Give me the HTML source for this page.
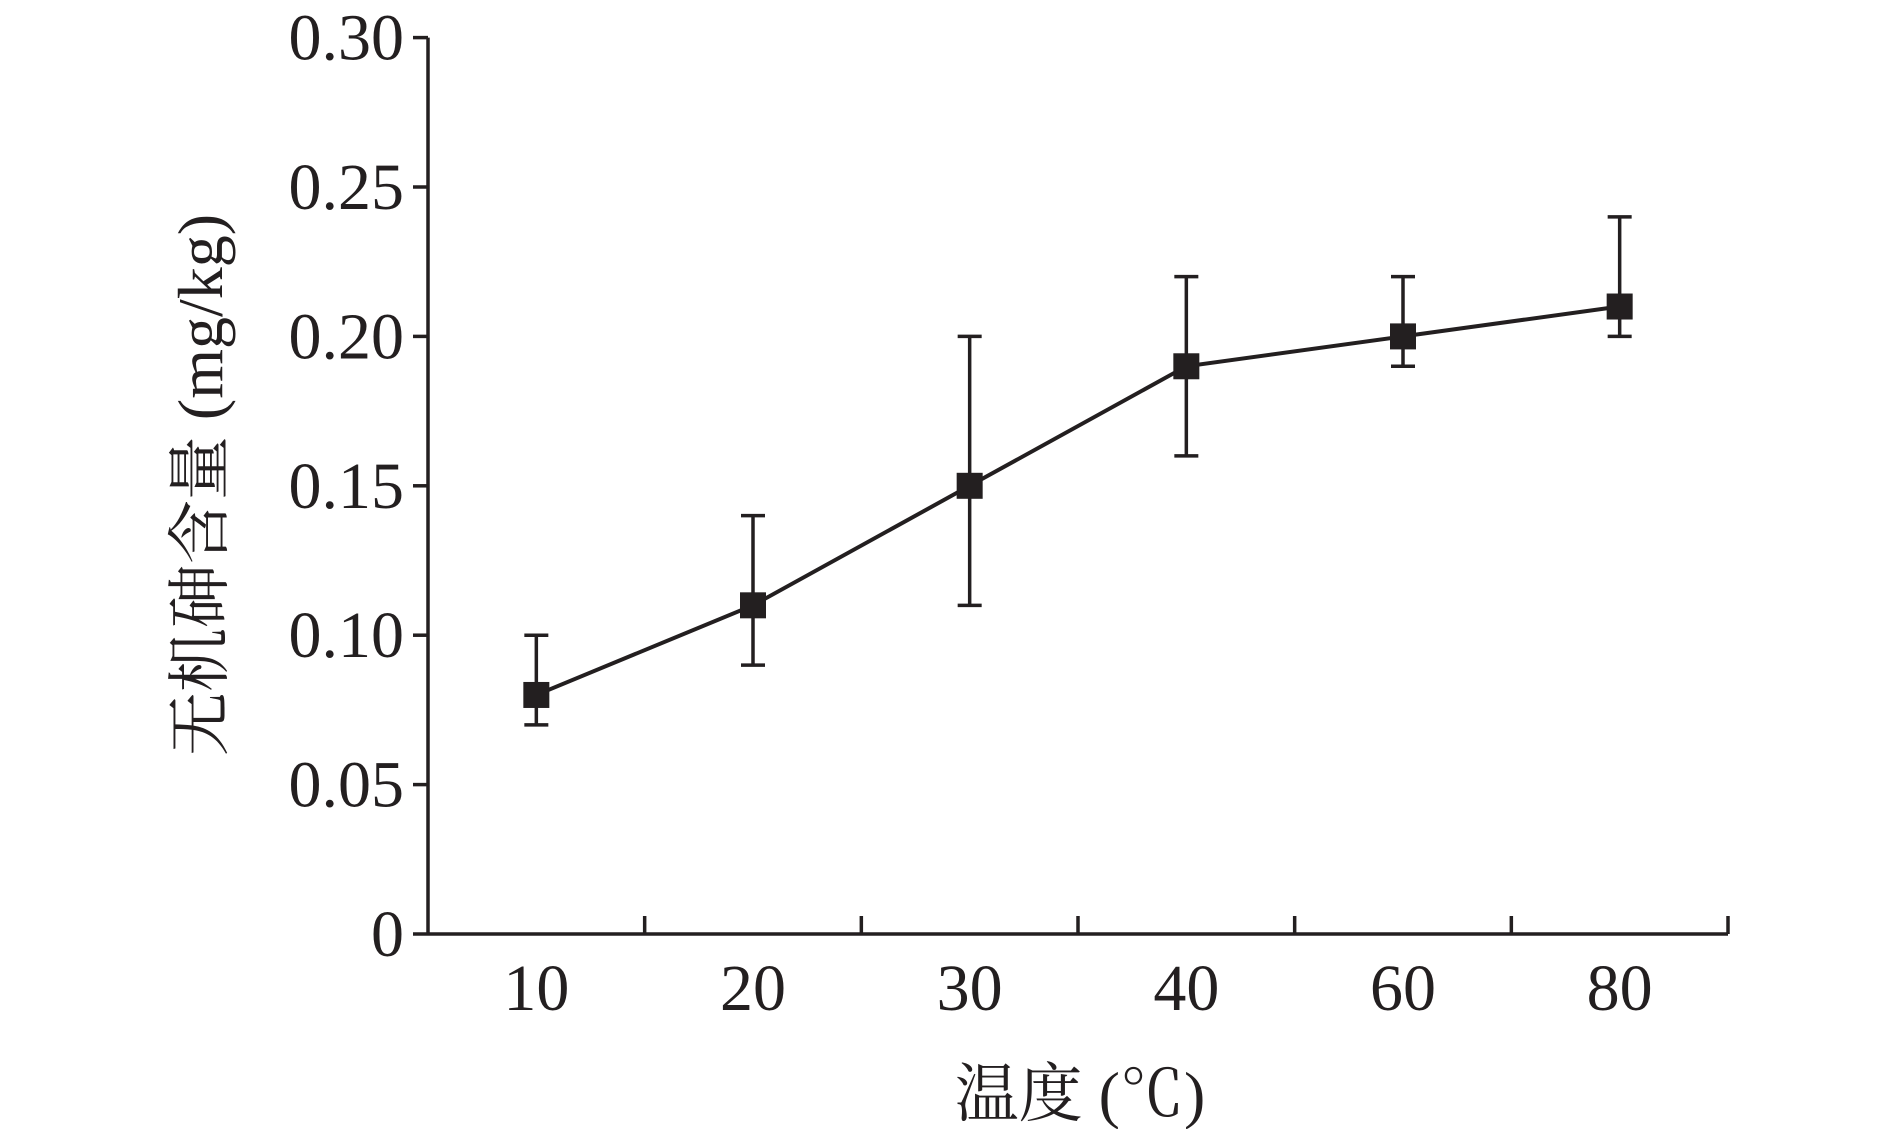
<!DOCTYPE html>
<html><head><meta charset="utf-8"><style>body{margin:0;background:#fff}svg{display:block}text{font-family:"Liberation Serif","Noto Serif CJK SC",serif;fill:#231f20}</style></head>
<body>
<svg id="chart" width="1890" height="1129" viewBox="0 0 1890 1129"></svg>
<script>
const categories=["10","20","30","40","60","80"];
const values=[0.08,0.11,0.15,0.19,0.20,0.21];
const errHigh=[0.10,0.14,0.20,0.22,0.22,0.24];
const errLow=[0.07,0.09,0.11,0.16,0.19,0.20];
const yTicks=[0,0.05,0.10,0.15,0.20,0.25,0.30];
const yTickLabels=["0","0.05","0.10","0.15","0.20","0.25","0.30"];
const svg=document.getElementById('chart');
const NS='http://www.w3.org/2000/svg';
const X0=428,X1=1728,Y0=934,Y1=37.6,band=(X1-X0)/categories.length;
const C='#231f20';
function y(v){return Y0-(v/0.30)*(Y0-Y1);}
function x(i){return X0+band*(i+0.5);}
function mk(t,a){const e=document.createElementNS(NS,t);for(const k in a)e.setAttribute(k,a[k]);svg.appendChild(e);return e;}
let e;
e=mk('line',{x1:X0,y1:Y1,x2:X0,y2:Y0,stroke:C,'stroke-width':3.5});


e=mk('line',{x1:X0,y1:Y0,x2:X1,y2:Y0,stroke:C,'stroke-width':3.5});


yTicks.forEach((v,i)=>{
 e=mk('line',{x1:X0-15,y1:y(v),x2:X0,y2:y(v),stroke:C,'stroke-width':3.5});
 
 
 e=mk('text',{x:404,y:y(v)+22,'text-anchor':'end','font-size':66});
 e.textContent=yTickLabels[i];
 
 
});
for(let i=1;i<=categories.length;i++){
 e=mk('line',{x1:X0+band*i,y1:Y0,x2:X0+band*i,y2:Y0-18,stroke:C,'stroke-width':3.5});
 
 
}
categories.forEach((c,i)=>{
 e=mk('text',{x:x(i),y:1010,'text-anchor':'middle','font-size':66});
 e.textContent=c;
 
 
});
e=mk('polyline',{points:values.map((v,i)=>x(i)+','+y(v)).join(' '),fill:'none',stroke:C,'stroke-width':4});


values.forEach((v,i)=>{
 const g=mk('g',{});
 
 
 [[x(i),y(errLow[i]),x(i),y(errHigh[i])],[x(i)-12,y(errHigh[i]),x(i)+12,y(errHigh[i])],[x(i)-12,y(errLow[i]),x(i)+12,y(errLow[i])]].forEach(p=>{
  const l=document.createElementNS(NS,'line');
  l.setAttribute('x1',p[0]);l.setAttribute('y1',p[1]);l.setAttribute('x2',p[2]);l.setAttribute('y2',p[3]);
  l.setAttribute('stroke',C);l.setAttribute('stroke-width',3.5);g.appendChild(l);
 });
 e=mk('rect',{x:x(i)-13,y:y(v)-13,width:26,height:26,fill:C});
 
 
});
e=mk('text',{x:1080,y:1116,'text-anchor':'middle','font-size':64});
e.textContent='温度 (℃)';


e=mk('text',{x:0,y:0,'text-anchor':'middle','font-size':64,transform:'translate(222,485) rotate(-90)'});
e.textContent='无机砷含量 (mg/kg)';


</script>
</body></html>
